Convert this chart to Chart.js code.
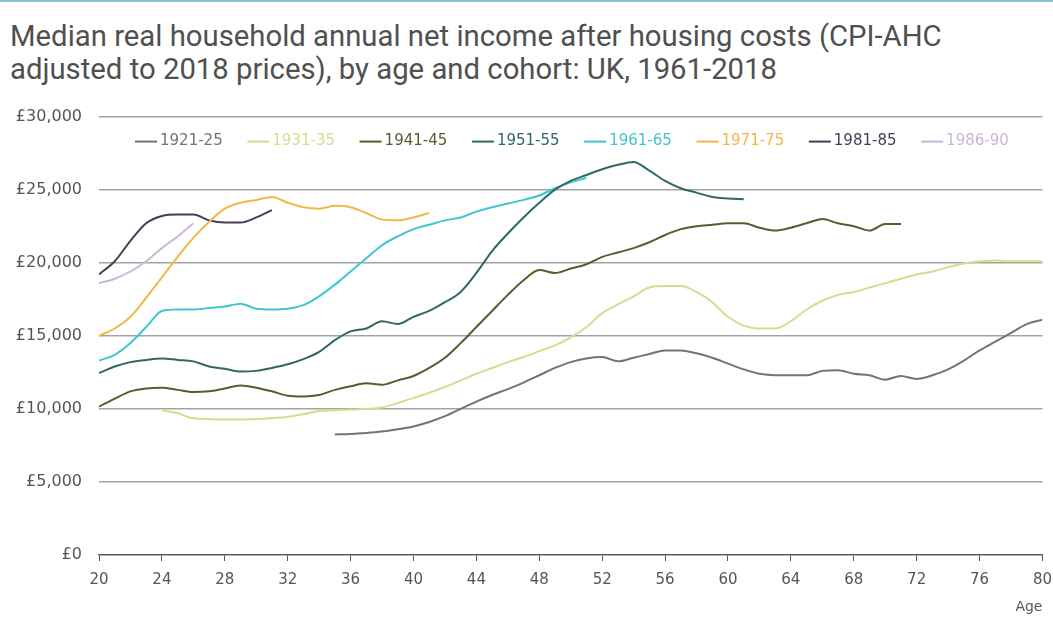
<!DOCTYPE html>
<html>
<head>
<meta charset="utf-8">
<script src="https://cdn.jsdelivr.net/npm/chart.js@4.4.1/dist/chart.umd.min.js"></script>
<style>
  html, body { margin: 0; padding: 0; background: #fff; }
  body { width: 1053px; height: 621px; position: relative; overflow: hidden; }
  #topline { position: absolute; left: 0; top: 0; width: 1053px; height: 2px; background: #8cc6cd; z-index: 2; }
  #title { position: absolute; left: 10px; top: 20px; font-family: Roboto, sans-serif; font-size: 29.3px; line-height: 33px; color: #505050; font-weight: 400; z-index: 2; }
  #wrap { position: absolute; left: 0; top: 90px; width: 1062px; height: 531px; }
</style>
</head>
<body>
<div id="topline"></div>
<div id="title">Median real household annual net income after housing costs (CPI-AHC<br>adjusted to 2018 prices), by age and cohort: UK, 1961-2018</div>
<div id="wrap"><canvas id="c"></canvas></div>
<script>
// ---- Data ----
const cohorts = ['1921-25', '1931-35', '1941-45', '1951-55', '1961-65', '1971-75', '1981-85', '1986-90'];
const startAges = [35, 24, 20, 20, 20, 20, 20, 20];
const colors = ['#75707e', '#d6dc92', '#535f2c', '#2f6866', '#3fc6d0', '#f1b846', '#4a3b57', '#c9b6d9'];
const xTicks = [20, 24, 28, 32, 36, 40, 44, 48, 52, 56, 60, 64, 68, 72, 76, 80];
const yTicks = [0, 5000, 10000, 15000, 20000, 25000, 30000];

const inc1921_25 = [8250, 8280, 8350, 8450, 8600, 8800, 9100, 9500, 10000, 10500,
  10950, 11350, 11800, 12300, 12800, 13200, 13450, 13550, 13250, 13500,
  13750, 14000, 14000, 13800, 13500, 13100, 12700, 12400, 12300, 12300,
  12300, 12600, 12650, 12400, 12300, 12000, 12250, 12050, 12300, 12700,
  13300, 14000, 14600, 15200, 15800, 16100];
const inc1931_35 = [9900, 9700, 9350, 9300, 9280, 9280, 9300, 9380, 9450, 9650,
  9850, 9900, 9950, 10000, 10100, 10400, 10750, 11100, 11500, 11950,
  12400, 12800, 13200, 13550, 13950, 14350, 14900, 15600, 16550, 17150,
  17700, 18300, 18400, 18400, 18000, 17300, 16300, 15700, 15500, 15500,
  16000, 16800, 17400, 17800, 18000, 18300, 18600, 18900, 19200, 19400,
  19700, 19950, 20100, 20150, 20100, 20100, 20100];
const inc1941_45 = [10150, 10700, 11200, 11400, 11450, 11300, 11150, 11200, 11400, 11600,
  11450, 11200, 10900, 10850, 10950, 11300, 11550, 11750, 11650, 11950,
  12250, 12800, 13500, 14500, 15600, 16700, 17800, 18800, 19500, 19300,
  19600, 19900, 20400, 20700, 21000, 21400, 21900, 22300, 22500, 22600,
  22700, 22700, 22400, 22200, 22400, 22700, 23000, 22700, 22500, 22200,
  22650, 22650];
const inc1951_55 = [12450, 12900, 13200, 13350, 13450, 13350, 13250, 12900, 12750, 12550,
  12600, 12800, 13050, 13400, 13900, 14700, 15300, 15500, 16000, 15800,
  16300, 16700, 17300, 18000, 19300, 20800, 22000, 23100, 24100, 25000,
  25600, 26000, 26400, 26700, 26900, 26300, 25600, 25100, 24800, 24500,
  24400, 24350];
const inc1961_65 = [13300, 13700, 14500, 15600, 16700, 16800, 16800, 16900, 17000, 17200,
  16850, 16800, 16850, 17100, 17700, 18500, 19400, 20300, 21200, 21800,
  22300, 22600, 22900, 23100, 23500, 23800, 24050, 24300, 24600, 25100,
  25500, 25800];
const inc1971_75 = [15000, 15500, 16300, 17600, 19000, 20400, 21700, 22800, 23700, 24100,
  24300, 24500, 24100, 23800, 23700, 23900, 23800, 23400, 22950, 22900,
  23100, 23400];
const inc1981_85 = [19200, 20100, 21500, 22700, 23200, 23300, 23300, 22900, 22750, 22750,
  23100, 23600];
const inc1986_90 = [18600, 18900, 19400, 20100, 21000, 21800, 22700];

const seriesValues = [inc1921_25, inc1931_35, inc1941_45, inc1951_55, inc1961_65, inc1971_75, inc1981_85, inc1986_90];

const datasets = cohorts.map((name, i) => ({
  label: name,
  data: seriesValues[i].map((v, k) => ({ x: startAges[i] + k, y: v })),
  borderColor: colors[i],
  backgroundColor: colors[i],
  borderWidth: 2,
  pointRadius: 0,
  tension: 0.4,
  cubicInterpolationMode: 'monotone',
  fill: false
}));

// Legend drawn inside the plot area
const insideLegend = {
  id: 'insideLegend',
  afterDraw(chart) {
    const ctx = chart.ctx;
    const y = chart.chartArea.top + 25;
    ctx.save();
    ctx.font = '15px "DejaVu Sans", sans-serif';
    ctx.textBaseline = 'middle';
    let x = 135;
    chart.data.datasets.forEach((ds) => {
      ctx.strokeStyle = ds.borderColor;
      ctx.lineWidth = 2;
      ctx.beginPath();
      ctx.moveTo(x, y);
      ctx.lineTo(x + 22, y);
      ctx.stroke();
      ctx.fillStyle = ds.borderColor;
      ctx.fillText(ds.label, x + 25, y);
      x += 112.3;
    });
    ctx.restore();
  }
};

new Chart(document.getElementById('c'), {
  type: 'line',
  data: { datasets },
  plugins: [insideLegend],
  options: {
    responsive: true,
    maintainAspectRatio: false,
    animation: false,
    layout: { padding: { left: 0, right: 3, top: 12, bottom: 0 } },
    plugins: { legend: { display: false }, tooltip: { enabled: false }, title: { display: false } },
    scales: {
      x: {
        type: 'linear',
        min: 20, max: 80,
        afterBuildTicks(scale) { scale.ticks = xTicks.map(v => ({ value: v })); },
        afterFit(scale) { scale.height = 66; },
        grid: { display: true, drawOnChartArea: false, drawTicks: true, tickLength: 6, color: '#555', lineWidth: 1 },
        border: { display: true, color: '#555', width: 1.2 },
        ticks: { color: '#555', font: { family: '"DejaVu Sans", sans-serif', size: 15 }, padding: 10, maxRotation: 0 },
        title: { display: true, text: 'Age', align: 'end', color: '#555', font: { family: '"DejaVu Sans", sans-serif', size: 14 }, padding: { top: 0, bottom: 5 } }
      },
      y: {
        min: 0, max: 30000,
        afterBuildTicks(scale) { scale.ticks = yTicks.map(v => ({ value: v })); },
        afterFit(scale) { scale.width = 99; },
        grid: { color: '#a3a3a3', lineWidth: 1.5, drawTicks: false },
        border: { display: false },
        ticks: {
          color: '#555', padding: 17,
          font: { family: '"DejaVu Sans", sans-serif', size: 16 },
          callback: (v) => '£' + v.toLocaleString('en-GB')
        }
      }
    }
  }
});
</script>
</body>
</html>
